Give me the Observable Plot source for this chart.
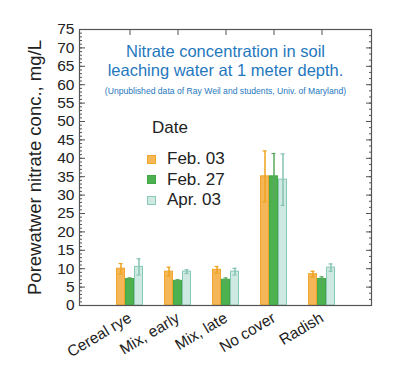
<!DOCTYPE html>
<html>
<head>
<meta charset="utf-8">
<script src="https://cdn.jsdelivr.net/npm/d3@7"></script>
<script src="https://cdn.jsdelivr.net/npm/@observablehq/plot@0.6"></script>
<style>
  html, body { margin: 0; padding: 0; background: #fff; }
  #wrap { position: relative; width: 399px; height: 383px; font-family: "Liberation Sans", Arial, sans-serif; }
  #legend { position: absolute; left: 147px; top: 118px; color: #222; }
  #legend .ttl { font-size: 17px; margin-left: 5px; margin-bottom: 11px; }
  #legend .row { display: flex; align-items: center; height: 20.5px; font-size: 17px; }
  #legend .sw { width: 9px; height: 9px; margin-right: 11px; box-sizing: border-box; border: 1px solid; }
</style>
</head>
<body>
<div id="wrap"></div>
<script>
const categories = ["Cereal rye", "Mix, early", "Mix, late", "No cover", "Radish"];
const dates = ["Feb. 03", "Feb. 27", "Apr. 03"];
const feb03 = [10.0, 9.2, 9.7, 35.1, 8.5];
const feb03Err = [1.4, 1.2, 0.9, 6.9, 0.8];
const feb27 = [7.2, 6.7, 7.0, 35.1, 7.2];
const feb27Err = [0.3, 0.3, 0.5, 6.2, 0.6];
const apr03 = [10.5, 9.2, 9.2, 34.2, 10.3];
const apr03Err = [2.2, 0.5, 0.9, 7.0, 1.0];
const yTicks = [0, 5, 10, 15, 20, 25, 30, 35, 40, 45, 50, 55, 60, 65, 70, 75];
const titleText = "Nitrate concentration in soil\nleaching water at 1 meter depth.";
const subtitleText = "(Unpublished data of Ray Weil and students, Univ. of Maryland)";
const yLabel = "Porewatwer nitrate conc., mg/L";
const legendTitle = "Date";

const series = [
  {date: dates[0], values: feb03, errs: feb03Err, fill: "#f4b657", stroke: "#f0a52c", err: "#eea21f", dx: -9},
  {date: dates[1], values: feb27, errs: feb27Err, fill: "#4db14f", stroke: "#45a848", err: "#5aa85c", dx: 0},
  {date: dates[2], values: apr03, errs: apr03Err, fill: "#cde9e2", stroke: "#86c9b6", err: "#86c2b3", dx: 9}
];

const marks = [];
for (const s of series) {
  const rows = categories.map((c, i) => ({cat: c, v: s.values[i], lo: s.values[i] - s.errs[i], hi: s.values[i] + s.errs[i]}));
  marks.push(Plot.barY(rows, {x: "cat", y: "v", fill: s.fill, stroke: s.stroke, strokeWidth: 1, dx: s.dx, insetLeft: 0.5, insetRight: 0.5}));
  marks.push(Plot.ruleX(rows, {x: "cat", y1: "lo", y2: "hi", stroke: s.err, strokeWidth: 1.5, dx: s.dx}));
  marks.push(Plot.tickY(rows, {x: "cat", y: "hi", stroke: s.err, strokeWidth: 1.2, dx: s.dx, insetLeft: 2.5, insetRight: 2.5}));
  marks.push(Plot.tickY(rows, {x: "cat", y: "lo", stroke: s.err, strokeWidth: 1.2, dx: s.dx, insetLeft: 2.5, insetRight: 2.5}));
}

const axisColor = "#555";
const plot = Plot.plot({
  width: 399,
  height: 383,
  marginLeft: 79,
  marginRight: 28,
  marginTop: 29,
  marginBottom: 78,
  style: {fontFamily: "'Liberation Sans', Arial, sans-serif", background: "white"},
  x: {domain: categories, paddingInner: 0.814, paddingOuter: 0.897, axis: null},
  y: {domain: [0, 75], axis: null},
  marks: [
    ...marks,
    Plot.frame({stroke: axisColor, strokeWidth: 1.2}),
    Plot.axisY({anchor: "left", ticks: yTicks, tickSize: 0, tickPadding: 5, fontSize: 15.5, fill: "#222", label: null}),
    Plot.axisY({anchor: "left", ticks: [], tickSize: 0, text: null, fontSize: 18.5, fill: "#222", label: yLabel, labelAnchor: "center", labelArrow: "none", labelOffset: 52}),
    Plot.axisY({anchor: "left", ticks: yTicks, tickSize: -6, text: null, label: null, stroke: axisColor}),
    Plot.axisY({anchor: "left", ticks: d3.range(0, 76, 1), tickSize: -3, text: null, label: null, stroke: axisColor}),
    Plot.axisY({anchor: "right", ticks: yTicks, tickSize: -6, text: null, label: null, stroke: axisColor}),
    Plot.axisY({anchor: "right", ticks: d3.range(0, 75, 5 / 3), tickSize: -3, text: null, label: null, stroke: axisColor}),
    Plot.axisX({anchor: "top", tickSize: -5, text: null, label: null, stroke: axisColor}),
    Plot.axisX({anchor: "bottom", tickSize: 0, tickPadding: 11, tickRotate: -31, fontSize: 15.5, fill: "#222", label: null}),
    Plot.text([titleText], {frameAnchor: "top", dy: 14, fontSize: 16.5, lineHeight: 1.15, fill: "#1f78be", lineAnchor: "top", text: d => d}),
    Plot.text([subtitleText], {frameAnchor: "top", dy: 58, fontSize: 8.6, fill: "#1f78be", lineAnchor: "top", text: d => d})
  ]
});

const wrap = document.getElementById("wrap");
wrap.appendChild(plot);

const legend = document.createElement("div");
legend.id = "legend";
const lt = document.createElement("div");
lt.className = "ttl";
lt.textContent = legendTitle;
legend.appendChild(lt);
for (const s of series) {
  const row = document.createElement("div");
  row.className = "row";
  const sw = document.createElement("span");
  sw.className = "sw";
  sw.style.background = s.fill;
  sw.style.borderColor = s.stroke;
  row.appendChild(sw);
  const t = document.createElement("span");
  t.textContent = s.date;
  row.appendChild(t);
  legend.appendChild(row);
}
wrap.appendChild(legend);
</script>
</body>
</html>
